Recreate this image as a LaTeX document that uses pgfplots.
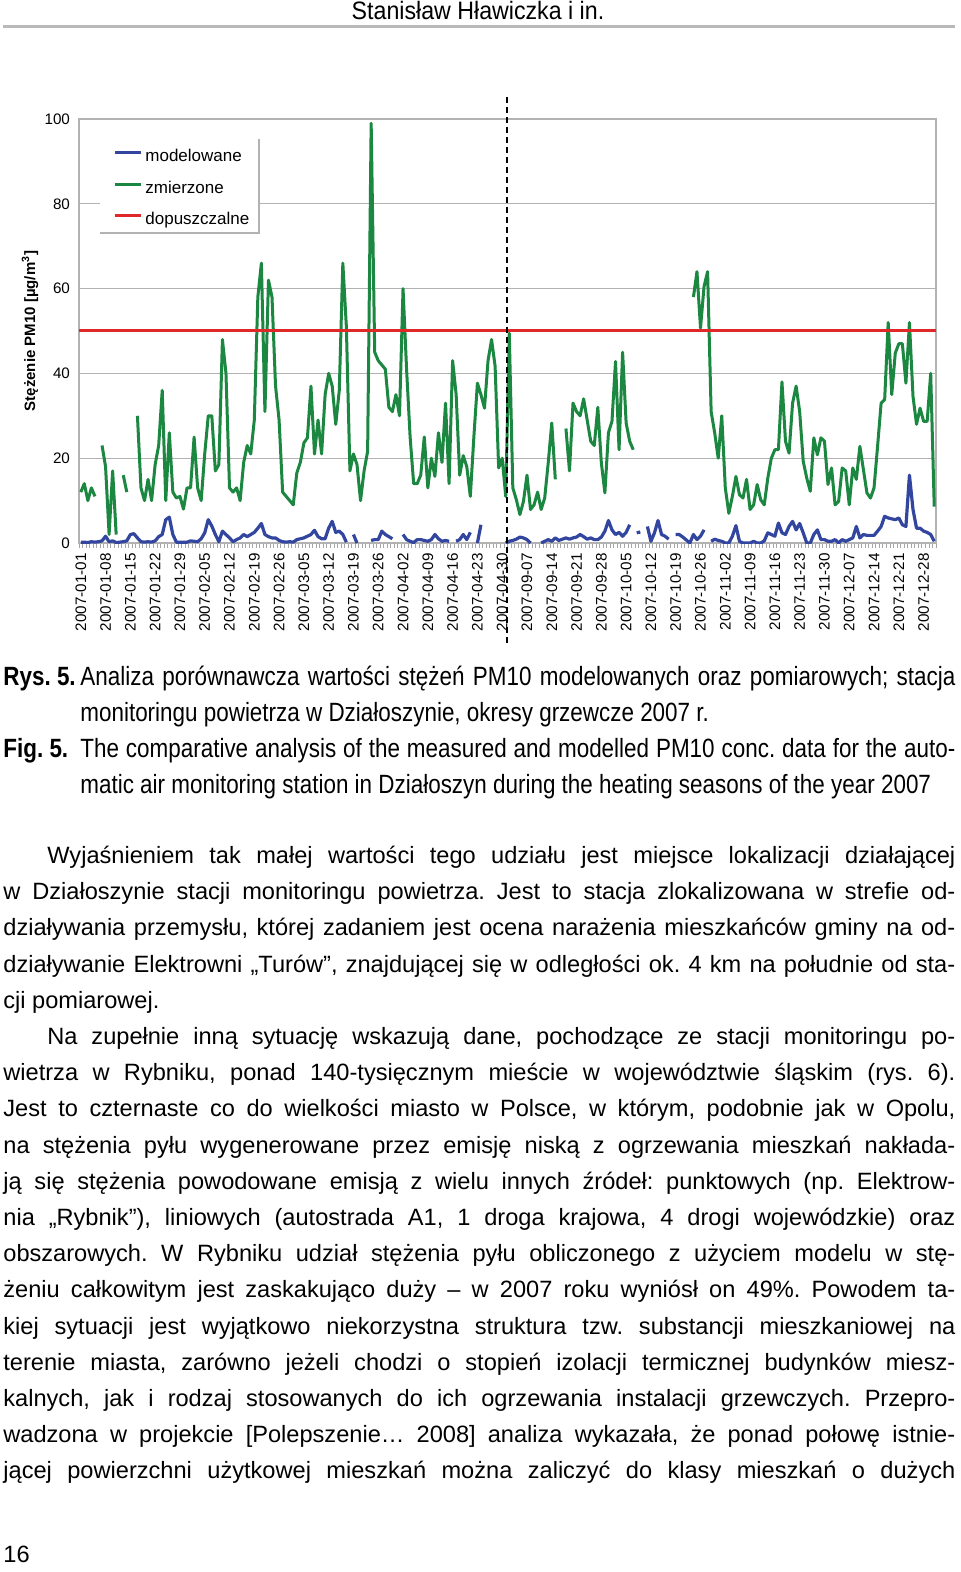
\documentclass[border=0pt]{standalone}
\usepackage{fontspec}
\setmainfont{Liberation Sans}
\newfontfamily\narrowfont[FakeStretch=0.85]{Liberation Sans}
\newfontfamily\headfont[FakeStretch=0.92]{Liberation Sans}
\usepackage{pgfplots}
\usepackage{pgfplotstable}
\pgfplotsset{compat=1.18}
\frenchspacing

\definecolor{cgreen}{RGB}{28,135,65}
\definecolor{cblue}{RGB}{50,70,160}
\definecolor{cred}{RGB}{225,40,40}

\newcommand\tickfont{\fontsize{7.6}{9}\selectfont}
\newcommand\legfont{\fontsize{8.5}{10}\selectfont}
\newcommand\bodyfont{\fontsize{11.8}{14}\selectfont}
\newcommand\capfont{\narrowfont\fontsize{13.2}{15}\selectfont}

% day index, measured (g), modelled (b)
\pgfplotstableread{
x g b
0 12 0.2
1 14 0.2
2 10 0.1
3 13 0.3
4 11 0.2
5 nan 0.3
6 23 0.5
7 18 1.6
8 2 0.3
9 17 0.5
10 2 0.1
11 nan 0.2
12 16 0.3
13 12 0.5
14 nan 2
15 nan 2.2
16 30 1.2
17 13 0.3
18 10 0.2
19 15 0.3
20 10 0.2
21 18.5 0.5
22 23 1.5
23 36 2
24 10 5.5
25 26 6.1
26 12 2
27 10.6 0.2
28 11 0.2
29 8 0.2
30 13 0.2
31 13 0.5
32 25 0.4
33 13 0.3
34 10 1
35 21 2.4
36 30 5.5
37 30 4
38 17 2
39 18.5 0.3
40 48 2.8
41 40 2
42 13 1.2
43 12 0.3
44 13 0.8
45 10 1.2
46 19 2
47 23 1.5
48 21 2
49 29 2.5
50 58 3.5
51 66 4.6
52 31 2
53 62 1.5
54 58 1.2
55 37 1.2
56 29 0.6
57 12 0.3
58 11 0.2
59 10 0.3
60 9 0.2
61 16.5 0.8
62 19 1
63 23.6 1.2
64 24.8 1.6
65 37 2
66 21 3
67 29 1.5
68 21 1
69 35 1
70 40 3.5
71 37 5.1
72 28 2.5
73 36 2.8
74 66 2
75 51 0.2
76 17 nan
77 21 2
78 18.5 0
79 10 nan
80 17 nan
81 21.6 nan
82 99 0.6
83 45 0.8
84 43 0.8
85 42 2.8
86 41 2
87 32 1.5
88 31 1
89 35 nan
90 30 nan
91 60 2
92 41 0.8
93 25 0.4
94 14 0.1
95 14 0.8
96 16 0.8
97 25 0.6
98 13 0.4
99 20 0.8
100 15.7 2
101 26 1
102 19 0.4
103 33 0.6
104 14 0.4
105 43 nan
106 35 0.4
107 16 0.8
108 20.6 2
109 18 0.8
110 11 2.5
111 25 nan
112 37.7 0
113 35 4.3
114 31.8 nan
115 43 nan
116 48 nan
117 41.7 nan
118 17.7 nan
119 20 nan
120 11 0
121 49.5 0.4
122 13 0.6
123 10.2 0.9
124 6.7 1.4
125 9.8 1.2
126 16 0.8
127 7.9 0
128 9 nan
129 12 nan
130 7.9 0
131 10.6 0.4
132 18.9 0.8
133 28.3 0.4
134 15 1.2
135 nan 0.6
136 nan 0.9
137 27 1.2
138 17 0.9
139 33 1.2
140 31 1.4
141 30 2
142 34 1.5
143 29 0.9
144 24 1.2
145 23 0.8
146 32 0.8
147 18.9 1.4
148 11.8 2.8
149 26 5.3
150 28.7 3.1
151 42.8 2
152 22 2.5
153 45 1.6
154 28.3 2.5
155 24 4.3
156 22 nan
157 nan 2.4
158 nan 2.6
159 nan nan
160 nan 3.9
161 nan 0.4
162 nan 2.4
163 nan 5.3
164 nan 2
165 nan 1.6
166 nan 0.9
167 nan nan
168 nan 2
169 nan 2
170 nan 1.4
171 nan 0.7
172 nan 0
173 58 2
174 64 0.8
175 50.7 1.6
176 60.5 3.1
177 64 nan
178 31 0.4
179 26 0.9
180 20 0.6
181 30 0.4
182 13 0
183 7 0
184 11 1.6
185 15.7 4.1
186 11.4 0.4
187 10.6 0
188 15 0
189 7.9 0
190 9 0.4
191 13.8 0
192 10.2 0
193 9 0.5
194 15.3 2.4
195 20 2
196 22 1.6
197 22 4.7
198 38 2.4
199 24 2
200 21.2 3.9
201 33 5.1
202 37 3.1
203 31 4.6
204 19.3 2.4
205 15.3 0
206 12.2 0
207 24.8 2
208 20.8 3.1
209 24.8 0.8
210 24 0.8
211 13.8 0.4
212 17.7 0.4
213 9 0.8
214 9.8 0
215 17.7 0.8
216 17 0.4
217 9 0.8
218 17.7 1.2
219 15 3.9
220 22.8 1.2
221 17.3 2
222 11.8 1.8
223 10.6 1.8
224 13 1.8
225 22.8 2.8
226 33 3.9
227 33.8 6.3
228 52 5.9
229 35 5.7
230 44.8 5.5
231 47 5.9
232 47 4.3
233 37.7 3.9
234 52 16
235 34.6 7.9
236 28 3.5
237 31.8 3.5
238 28.7 2.8
239 28.7 2.5
240 40 2
241 8.6 0.4
}\pm

\pgfplotstableread{
x y
-0.5 50
241.5 50
}\limit

\begin{document}
\begin{tikzpicture}
\path[use as bounding box] (0pt,0pt) rectangle (480pt,-786pt);
\fill[white] (0pt,0pt) rectangle (480pt,-786pt);

\begin{axis}[
    at={(39.5pt,-271.5pt)}, anchor=south west,
    scale only axis, width=428.5pt, height=212pt,
    xmin=-0.5, xmax=241.5, ymin=0, ymax=100,
    axis line style={gray!60, line width=0.6pt},
    ytick={0,20,...,100},
    ymajorgrids, grid style={gray!60, line width=0.6pt},
    xtick={0,7,...,238},
    xticklabels={2007-01-01,2007-01-08,2007-01-15,2007-01-22,2007-01-29,2007-02-05,2007-02-12,2007-02-19,2007-02-26,2007-03-05,2007-03-12,2007-03-19,2007-03-26,2007-04-02,2007-04-09,2007-04-16,2007-04-23,2007-04-30,2007-09-07,2007-09-14,2007-09-21,2007-09-28,2007-10-05,2007-10-12,2007-10-19,2007-10-26,2007-11-02,2007-11-09,2007-11-16,2007-11-23,2007-11-30,2007-12-07,2007-12-14,2007-12-21,2007-12-28},
    xticklabel style={rotate=90, anchor=east, font=\tickfont, inner sep=1pt, xshift=-4pt},
    minor xtick={-0.5,0.5,...,241.5},
    xtick pos=bottom, ytick pos=left,
    tick align=outside, major tick length=0pt, minor tick length=2.5pt,
    tick style={gray!70, line width=0.4pt},
    yticklabel style={font=\tickfont, xshift=-1pt},
    /pgf/number format/assume math mode=true,
    unbounded coords=jump,
    legend style={at={(rel axis cs:0.0397,0.929)}, anchor=north west,
        draw=none, fill=none, font=\legfont, inner sep=0pt, row sep=7.95pt,
        nodes={inner sep=0pt, text height=6.2pt, text depth=1.6pt},
        /tikz/every odd column/.append style={column sep=1.5pt},
        cells={anchor=west}},
    legend image code/.code={\draw[#1, line width=1.5pt] (0pt,2.2pt) -- (13pt,2.2pt);},
]
\fill[white] (rel axis cs:0.0245,0.731) rectangle (rel axis cs:0.210,0.953);
\draw[gray!60, line width=0.6pt] (rel axis cs:0.0245,0.731) -- (rel axis cs:0.210,0.731) -- (rel axis cs:0.210,0.953);
\addplot[cblue, line width=1.6pt, line join=round] table[x=x, y=b] {\pm};
\addlegendentry{modelowane}
\addplot[cgreen, line width=1.5pt, line join=round] table[x=x, y=g] {\pm};
\addlegendentry{zmierzone}
\addplot[cred, line width=1.5pt] table[x=x, y=y] {\limit};
\addlegendentry{dopuszczalne}
\end{axis}

\begin{scope}[x=0.5pt, y=-0.5pt]
% header
\node[anchor=base, inner sep=0pt, font=\headfont\fontsize{12.6}{15}\selectfont] at (478,19.5) {Stanisław Hławiczka i in.};
\draw[gray!55, line width=1.5pt] (3,27) -- (955,27);
% axis title and period divider
\node[rotate=90, inner sep=0pt, font=\bfseries\fontsize{7.5}{9}\selectfont] at (30,331) {Stężenie PM10 [µg/m\textsuperscript{3}]};
\draw[black, line width=0.8pt, dash pattern=on 3pt off 2pt] (507,97) -- (507,645);
% caption
\node[anchor=base west, inner sep=0pt, font=\capfont\bfseries] at (3,685) {Rys. 5.};
\node[anchor=base west, inner sep=0pt, font=\capfont] at (80,685) {\makebox[437.5pt][s]{Analiza porównawcza wartości stężeń PM10 modelowanych oraz pomiarowych; stacja}};
\node[anchor=base west, inner sep=0pt, font=\capfont] at (80,721) {monitoringu powietrza w Działoszynie, okresy grzewcze 2007 r.};
\node[anchor=base west, inner sep=0pt, font=\capfont\bfseries] at (3,757) {Fig. 5.};
\node[anchor=base west, inner sep=0pt, font=\capfont] at (80,757) {\makebox[437.5pt][s]{The comparative analysis of the measured and modelled PM10 conc. data for the auto-}};
\node[anchor=base west, inner sep=0pt, font=\capfont] at (80,793) {matic air monitoring station in Działoszyn during the heating seasons of the year 2007};
% body text
\node[anchor=base west, inner sep=0pt, font=\bodyfont] at (47,863.5) {\makebox[454pt][s]{Wyjaśnieniem tak małej wartości tego udziału jest miejsce lokalizacji działającej}};
\node[anchor=base west, inner sep=0pt, font=\bodyfont] at (3,899.7) {\makebox[476pt][s]{w Działoszynie stacji monitoringu powietrza. Jest to stacja zlokalizowana w strefie od-}};
\node[anchor=base west, inner sep=0pt, font=\bodyfont] at (3,935.9) {\makebox[476pt][s]{działywania przemysłu, której zadaniem jest ocena narażenia mieszkańców gminy na od-}};
\node[anchor=base west, inner sep=0pt, font=\bodyfont] at (3,972.1) {\makebox[476pt][s]{działywanie Elektrowni „Turów”, znajdującej się w odległości ok. 4 km na południe od sta-}};
\node[anchor=base west, inner sep=0pt, font=\bodyfont] at (3,1008.3) {cji pomiarowej.};
\node[anchor=base west, inner sep=0pt, font=\bodyfont] at (47,1044.5) {\makebox[454pt][s]{Na zupełnie inną sytuację wskazują dane, pochodzące ze stacji monitoringu po-}};
\node[anchor=base west, inner sep=0pt, font=\bodyfont] at (3,1080.7) {\makebox[476pt][s]{wietrza w Rybniku, ponad 140-tysięcznym mieście w województwie śląskim (rys. 6).}};
\node[anchor=base west, inner sep=0pt, font=\bodyfont] at (3,1116.9) {\makebox[476pt][s]{Jest to czternaste co do wielkości miasto w Polsce, w którym, podobnie jak w Opolu,}};
\node[anchor=base west, inner sep=0pt, font=\bodyfont] at (3,1153.1) {\makebox[476pt][s]{na stężenia pyłu wygenerowane przez emisję niską z ogrzewania mieszkań nakłada-}};
\node[anchor=base west, inner sep=0pt, font=\bodyfont] at (3,1189.3) {\makebox[476pt][s]{ją się stężenia powodowane emisją z wielu innych źródeł: punktowych (np. Elektrow-}};
\node[anchor=base west, inner sep=0pt, font=\bodyfont] at (3,1225.5) {\makebox[476pt][s]{nia „Rybnik”), liniowych (autostrada A1, 1 droga krajowa, 4 drogi wojewódzkie) oraz}};
\node[anchor=base west, inner sep=0pt, font=\bodyfont] at (3,1261.7) {\makebox[476pt][s]{obszarowych. W Rybniku udział stężenia pyłu obliczonego z użyciem modelu w stę-}};
\node[anchor=base west, inner sep=0pt, font=\bodyfont] at (3,1297.9) {\makebox[476pt][s]{żeniu całkowitym jest zaskakująco duży – w 2007 roku wyniósł on 49\%. Powodem ta-}};
\node[anchor=base west, inner sep=0pt, font=\bodyfont] at (3,1334.1) {\makebox[476pt][s]{kiej sytuacji jest wyjątkowo niekorzystna struktura tzw. substancji mieszkaniowej na}};
\node[anchor=base west, inner sep=0pt, font=\bodyfont] at (3,1370.3) {\makebox[476pt][s]{terenie miasta, zarówno jeżeli chodzi o stopień izolacji termicznej budynków miesz-}};
\node[anchor=base west, inner sep=0pt, font=\bodyfont] at (3,1406.5) {\makebox[476pt][s]{kalnych, jak i rodzaj stosowanych do ich ogrzewania instalacji grzewczych. Przepro-}};
\node[anchor=base west, inner sep=0pt, font=\bodyfont] at (3,1442.7) {\makebox[476pt][s]{wadzona w projekcie [Polepszenie… 2008] analiza wykazała, że ponad połowę istnie-}};
\node[anchor=base west, inner sep=0pt, font=\bodyfont] at (3,1478.9) {\makebox[476pt][s]{jącej powierzchni użytkowej mieszkań można zaliczyć do klasy mieszkań o dużych}};
% page number
\node[anchor=base west, inner sep=0pt, font=\bodyfont] at (3,1562) {16};
\end{scope}
\end{tikzpicture}
\end{document}
